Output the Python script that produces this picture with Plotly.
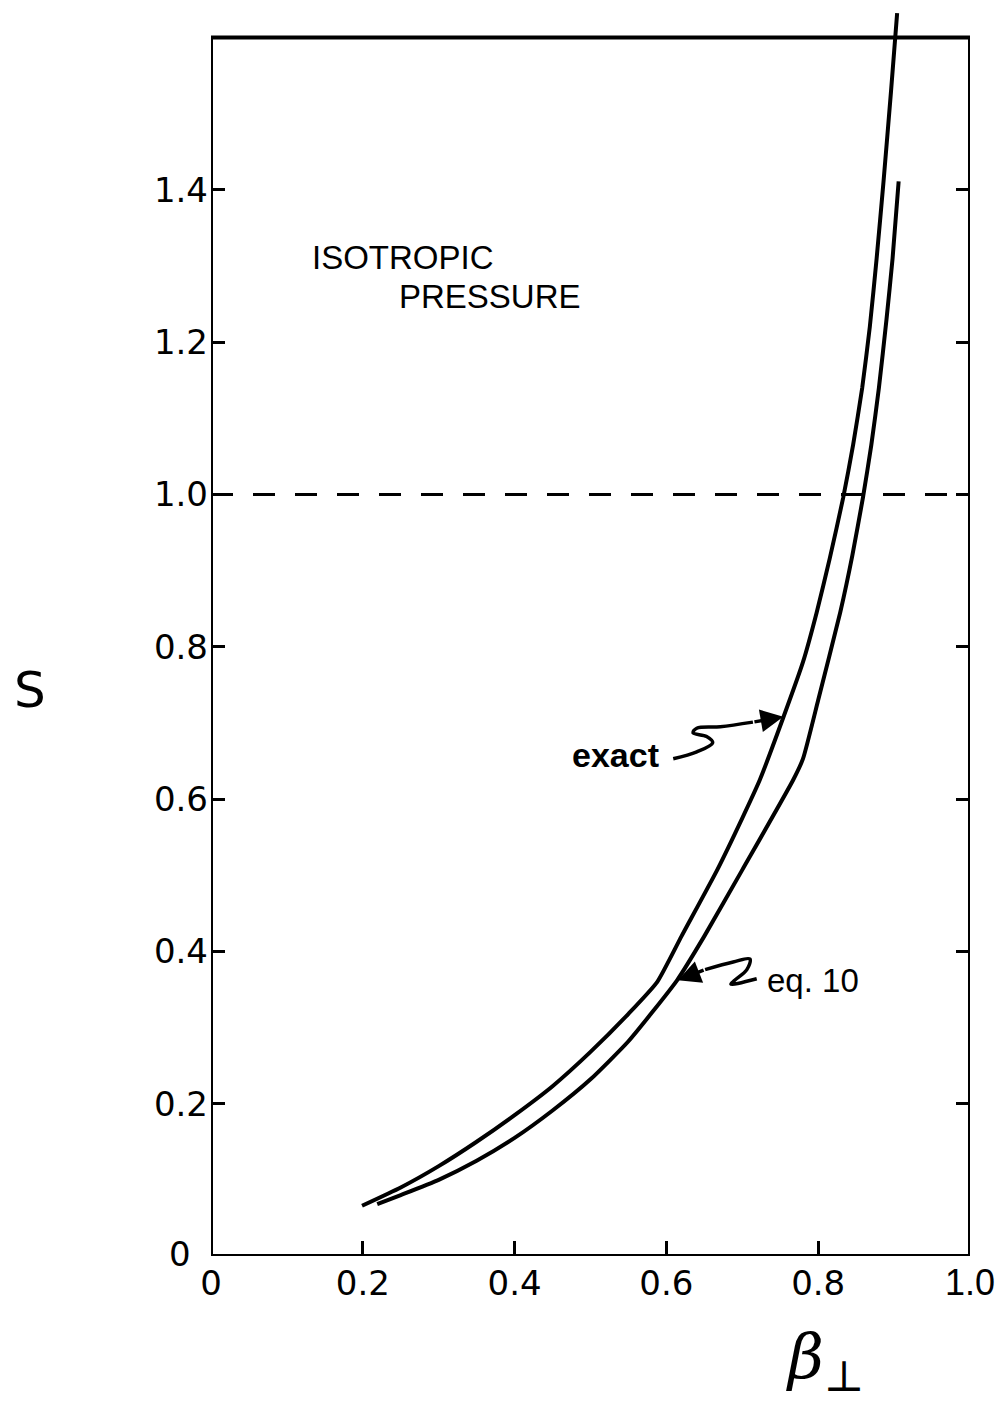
import plotly.graph_objects as go

# Data
exact_x = [0.199, 0.25, 0.30, 0.35, 0.40, 0.45, 0.50, 0.55, 0.588, 0.62, 0.667, 0.70, 0.723, 0.754,
           0.78, 0.798, 0.815, 0.833, 0.846, 0.858, 0.868, 0.877, 0.886, 0.896, 0.904]
exact_y = [0.066, 0.090, 0.118, 0.150, 0.185, 0.223, 0.268, 0.318, 0.360, 0.420, 0.507, 0.575, 0.625, 0.707,
           0.780, 0.845, 0.915, 0.996, 1.065, 1.140, 1.220, 1.310, 1.410, 1.530, 1.632]

eq10_x = [0.219, 0.25, 0.30, 0.35, 0.40, 0.45, 0.50, 0.55, 0.614, 0.65, 0.700, 0.767, 0.780, 0.80,
          0.829, 0.845, 0.859, 0.870, 0.880, 0.890, 0.898, 0.906]
eq10_y = [0.068, 0.080, 0.100, 0.125, 0.155, 0.191, 0.232, 0.282, 0.362, 0.420, 0.507, 0.625, 0.653, 0.730,
          0.845, 0.920, 0.996, 1.065, 1.140, 1.230, 1.310, 1.411]

x_ticks = [0, 0.2, 0.4, 0.6, 0.8, 1.0]
x_tick_labels = ["0", "0.2", "0.4", "0.6", "0.8",
                 '<span style="font-family:Liberation Sans;font-size:36px">1.0</span>']
y_ticks = [0.2, 0.4, 0.6, 0.8, 1.0, 1.2, 1.4]
y_tick_labels = ["0.2", "0.4", "0.6", "0.8", "1.0", "1.2", "1.4"]
y_zero_label = "0"
s_reference = 1.0
Y_MAX = 1.64
FRAME_TOP = 1.6

# leader squiggles for the labels
exact_leader_x = [0.609, 0.640, 0.661, 0.653, 0.635, 0.640, 0.671, 0.714]
exact_leader_y = [0.653, 0.662, 0.674, 0.682, 0.687, 0.693, 0.695, 0.701]
exact_tip = (0.754, 0.708)
eq10_leader_x = [0.719, 0.685, 0.690, 0.706, 0.710, 0.688, 0.651]
eq10_leader_y = [0.364, 0.357, 0.362, 0.376, 0.390, 0.386, 0.376]
eq10_tip = (0.615, 0.362)

FONT = "Liberation Sans"
TICKFONT = "DejaVu Sans"
fig = go.Figure()

fig.add_trace(go.Scatter(x=exact_x, y=exact_y, mode="lines",
                         line=dict(color="black", width=4, shape="spline", smoothing=0.5),
                         showlegend=False, hoverinfo="skip"))
fig.add_trace(go.Scatter(x=eq10_x, y=eq10_y, mode="lines",
                         line=dict(color="black", width=4, shape="spline", smoothing=0.5),
                         showlegend=False, hoverinfo="skip"))
for lx, ly in [(exact_leader_x, exact_leader_y), (eq10_leader_x, eq10_leader_y)]:
    fig.add_trace(go.Scatter(x=lx, y=ly, mode="lines",
                             line=dict(color="black", width=3.5, shape="spline", smoothing=1.0),
                             showlegend=False, hoverinfo="skip"))

# frame
fig.add_shape(type="rect", x0=0, x1=1, y0=0, y1=FRAME_TOP, xref="x", yref="y",
              line=dict(color="black", width=4), layer="above")
# dashed reference line
fig.add_shape(type="line", x0=0, x1=1, y0=s_reference, y1=s_reference, xref="x", yref="y",
              line=dict(color="black", width=3, dash="22px,20px"))

# arrows
fig.add_annotation(x=exact_tip[0], y=exact_tip[1], ax=exact_leader_x[-1], ay=exact_leader_y[-1],
                   xref="x", yref="y", axref="x", ayref="y", text="", showarrow=True,
                   arrowhead=2, arrowsize=1.3, arrowwidth=3.5, arrowcolor="black")
fig.add_annotation(x=eq10_tip[0], y=eq10_tip[1], ax=eq10_leader_x[-1], ay=eq10_leader_y[-1],
                   xref="x", yref="y", axref="x", ayref="y", text="", showarrow=True,
                   arrowhead=2, arrowsize=1.3, arrowwidth=3.5, arrowcolor="black")

txt = dict(showarrow=False, xref="x", yref="y", font=dict(family=FONT, size=33, color="black"))
fig.add_annotation(x=0.130, y=1.311, text="ISOTROPIC", xanchor="left", yanchor="middle", **txt)
fig.add_annotation(x=0.245, y=1.260, text="PRESSURE", xanchor="left", yanchor="middle", **txt)
fig.add_annotation(x=0.473, y=0.658, text="<b>exact</b>", xanchor="left", yanchor="middle",
                   showarrow=False, xref="x", yref="y", font=dict(family=FONT, size=34, color="black"))
fig.add_annotation(x=0.730, y=0.362, text="eq. 10", xanchor="left", yanchor="middle", **txt)

# y-axis "0" label, set slightly apart from the x-axis "0"
fig.add_annotation(x=-0.024, y=0.002, text=y_zero_label, xref="paper", yref="paper", showarrow=False,
                   xanchor="right", yanchor="middle", font=dict(family=TICKFONT, size=34, color="black"))

# axis titles (paper coordinates, since they sit outside the axis ranges)
fig.add_annotation(x=-0.238, y=0.743 / Y_MAX, text="S", xref="paper", yref="paper", showarrow=False,
                   xanchor="center", yanchor="middle", font=dict(family=TICKFONT, size=50, color="black"))
fig.add_annotation(x=0.809, y=-0.137 / Y_MAX, text="<i>β</i><sub>⊥</sub>", xref="paper", yref="paper",
                   showarrow=False, xanchor="center", yanchor="middle",
                   font=dict(family="DejaVu Serif", size=62, color="black"))

fig.update_layout(
    width=995, height=1408,
    margin=dict(l=211, r=25, t=7, b=152, autoexpand=False),
    paper_bgcolor="white", plot_bgcolor="white",
    xaxis=dict(range=[0, 1], tickvals=x_ticks, ticktext=x_tick_labels, ticks="inside",
               ticklen=15, tickwidth=3, tickcolor="black", showgrid=False, zeroline=False,
               showline=False, tickfont=dict(family=TICKFONT, size=34, color="black"),
               ticklabelstandoff=4, ticklabeloverflow="allow", automargin=False),
    yaxis=dict(range=[0, Y_MAX], tickvals=y_ticks, ticktext=y_tick_labels, ticks="inside",
               ticklen=14, tickwidth=3, tickcolor="black", mirror="ticks", showgrid=False,
               zeroline=False, showline=False, tickfont=dict(family=TICKFONT, size=34, color="black"),
               ticklabelstandoff=2, ticklabeloverflow="allow", automargin=False),
)

fig.write_html("out.html", config={"displayModeBar": False},
               post_script="document.body.style.margin='0px';document.body.style.overflow='hidden';")
